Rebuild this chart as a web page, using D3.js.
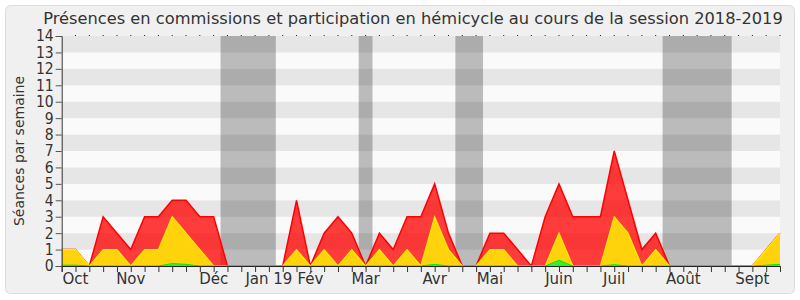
<!DOCTYPE html>
<html>
<head>
<meta charset="utf-8">
<script src="https://cdn.jsdelivr.net/npm/d3@7"></script>
<style>
  body { margin: 0; background: #fff; }
  svg { display: block; font-family: "DejaVu Sans", sans-serif; }
</style>
</head>
<body>
<svg id="chart" width="800" height="300"></svg>
<script>
// séances par semaine, une valeur par semaine (53 semaines)
const total = [1, 1, 0, 3, 2, 1, 3, 3, 4, 4, 3, 3, 0, 0, 0, 0, 0, 4, 0, 2, 3, 2, 0, 2, 1, 3, 3, 5, 2, 0, 0, 2, 2, 1, 0, 3, 5, 3, 3, 3, 7, 4, 1, 2, 0, 0, 0, 0, 0, 0, 0, 1, 2];
const hemicycle = [1, 1, 0, 1, 1, 0, 1, 1, 3, 2, 1, 0, 0, 0, 0, 0, 0, 1, 0, 1, 0, 1, 0, 1, 0, 1, 0, 3, 1, 0, 0, 1, 1, 0, 0, 0, 2, 0, 0, 0, 3, 2, 0, 1, 0, 0, 0, 0, 0, 0, 0, 1, 2];
const questions = [0.05, 0.05, 0, 0, 0, 0, 0, 0, 0.15, 0.1, 0, 0, 0, 0, 0, 0, 0, 0, 0, 0, 0, 0, 0, 0, 0, 0, 0, 0.1, 0, 0, 0, 0, 0, 0, 0, 0, 0.35, 0, 0, 0, 0.08, 0, 0, 0, 0, 0, 0, 0, 0, 0, 0, 0.05, 0.1];
// vacances parlementaires : [première semaine, dernière semaine]
const vacances = [[12, 15], [22, 22], [29, 30], [44, 48]];
const monthIdx = [1, 5, 11, 15, 18, 22, 27, 31, 36, 40, 45, 50];
const monthLabels = ["Oct", "Nov", "Déc", "Jan 19", "Fév", "Mar", "Avr", "Mai", "Juin", "Juil", "Août", "Sept"];
const yTicks = d3.range(0, 15);

const svg = d3.select("#chart");
const mLeft = 61.7, mRight = 780, mTop = 36, mBottom = 266;

const x = d3.scaleLinear().domain([0, total.length - 1]).range([mLeft, mRight]);
const y = d3.scaleLinear().domain([0, 14]).range([mBottom, mTop]);

// fond
svg.append("rect")
  .attr("x", 5.5).attr("y", 5.5).attr("width", 789).attr("height", 288)
  .attr("rx", 5)
  .attr("fill", "#f0f0f0").attr("stroke", "#dcdcdc");

// bandes horizontales
svg.append("g").selectAll("rect")
  .data(d3.range(0, 14))
  .join("rect")
  .attr("x", mLeft).attr("width", mRight - mLeft)
  .attr("y", d => y(d + 1)).attr("height", d => y(d) - y(d + 1))
  .attr("fill", d => d % 2 === 1 ? "#e6e6e6" : "#fafafa");

// vacances
svg.append("g").selectAll("rect")
  .data(vacances)
  .join("rect")
  .attr("x", d => x(d[0] - 0.5))
  .attr("width", d => x(d[1] + 0.5) - x(d[0] - 0.5))
  .attr("y", mTop).attr("height", mBottom - mTop)
  .attr("fill", "#000").attr("fill-opacity", 0.25);

const area = vals => d3.area()
  .x((d, i) => x(i))
  .y0(y(0))
  .y1(d => y(d))(vals);
const line = vals => d3.line()
  .x((d, i) => x(i))
  .y(d => y(d))(vals);

svg.append("path").attr("d", area(total))
  .attr("fill", "#ff0000").attr("fill-opacity", 0.76);
svg.append("path").attr("d", line(total))
  .attr("fill", "none").attr("stroke", "#ff0000").attr("stroke-width", 1.5);

svg.append("path").attr("d", area(hemicycle))
  .attr("fill", "#ffd30c");
svg.append("path").attr("d", line(hemicycle))
  .attr("fill", "none").attr("stroke", "#ffee00").attr("stroke-width", 1.2);

svg.append("path").attr("d", area(questions))
  .attr("fill", "#33ee33");
svg.append("path").attr("d", line(questions))
  .attr("fill", "none").attr("stroke", "#00ee00").attr("stroke-width", 1);

// axe y
const yAxis = svg.append("g")
  .attr("transform", `translate(${mLeft},0)`)
  .call(d3.axisLeft(y).tickValues(yTicks).tickSize(6).tickPadding(2).tickFormat(d3.format("d")));
yAxis.select(".domain").attr("stroke", "#333");
yAxis.selectAll(".tick line").attr("stroke", "#555");
yAxis.selectAll("text").attr("font-size", 15.5).attr("fill", "#333")
  .attr("font-family", "'DejaVu Sans Condensed', 'DejaVu Sans', sans-serif");

// axe x
const xAxis = svg.append("g")
  .attr("transform", `translate(0,${mBottom})`)
  .call(d3.axisBottom(x).tickValues(d3.range(0, total.length)).tickSize(6).tickFormat(""));
xAxis.select(".domain").attr("stroke", "#222");
xAxis.selectAll(".tick line").attr("stroke", "#333");

svg.append("g").selectAll("text")
  .data(monthIdx)
  .join("text")
  .attr("x", d => x(d))
  .attr("y", 284)
  .attr("text-anchor", "middle")
  .attr("font-size", 15)
  .attr("fill", "#333")
  .text((d, i) => monthLabels[i]);

// petits repères en haut
svg.append("g").selectAll("rect")
  .data(d3.range(1, total.length))
  .join("rect")
  .attr("x", d => x(d) - 0.5).attr("y", mTop - 1)
  .attr("width", 1).attr("height", 1)
  .attr("fill", "#222");

// titre
svg.append("text")
  .attr("x", 413).attr("y", 24)
  .attr("text-anchor", "middle")
  .attr("font-size", 16.25)
  .attr("fill", "#333")
  .text("Présences en commissions et participation en hémicycle au cours de la session 2018-2019");

svg.append("text")
  .attr("transform", "translate(24,151) rotate(-90)")
  .attr("text-anchor", "middle")
  .attr("font-size", 14)
  .attr("fill", "#333")
  .text("Séances par semaine");
</script>
</body>
</html>
